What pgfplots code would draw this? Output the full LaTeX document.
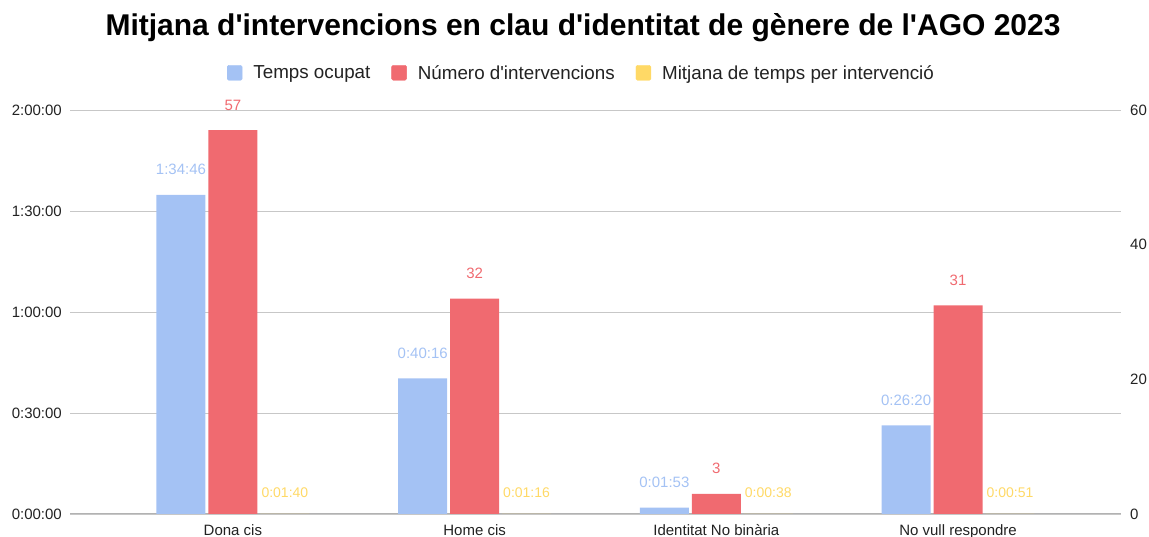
\documentclass[border=0pt]{standalone}
\usepackage{fontspec}
\setmainfont{Liberation Sans}
\usepackage{pgfplots}
\usepackage{pgfplotstable}
\pgfplotsset{compat=1.18}
\definecolor{cblue}{HTML}{A4C2F4}
\definecolor{cred}{HTML}{F06A70}
\definecolor{cyellow}{HTML}{FFD966}
\definecolor{ctext}{HTML}{222222}
\newcommand{\q}{\textquotesingle}

% Temps ocupat (seconds) with its label
\pgfplotstableread{
x t lab
0 5686 1:34:46
1 2416 0:40:16
2 113 0:01:53
3 1580 0:26:20
}\bluedata
% Numero d'intervencions
\pgfplotstableread{
x n
0 57
1 32
2 3
3 31
}\reddata
% Mitjana de temps per intervencio (bars drawn with no height in the reference)
\pgfplotstableread{
x secs t lab
0 100 0 0:01:40
1 76 0 0:01:16
2 38 0 0:00:38
3 51 0 0:00:51
}\yellowdata

\begin{document}
\begin{tikzpicture}
\useasboundingbox (0pt,0pt) rectangle (1149pt,537pt);
\node[anchor=base, font=\fontsize{30}{36}\selectfont\bfseries, text=black] at (583pt,501pt)
  {Mitjana d\q intervencions en clau d\q identitat de gènere de l\q AGO 2023};

\begin{axis}[
  at={(70pt,23pt)}, anchor=south west,
  width=1051pt, height=404pt, scale only axis,
  xmin=-0.674, xmax=3.674, ymin=0, ymax=7200,
  axis x line*=bottom, axis y line*=left,
  y axis line style={draw=none},
  x axis line style={draw=black!30, line width=1pt},
  ytick={0,1800,3600,5400,7200},
  yticklabels={0:00:00,0:30:00,1:00:00,1:30:00,2:00:00},
  ymajorgrids, grid style={black!22, line width=0.9pt},
  xtick={0,1,2,3},
  xticklabels={Dona cis, Home cis, Identitat No binària, No vull respondre},
  major tick length=0pt,
  tick label style={font=\fontsize{15}{18}\selectfont, text=ctext},
  yticklabel style={inner sep=0pt, xshift=-8pt},
  xticklabel style={inner sep=0pt, yshift=-10pt},
  ybar, bar width=0.2025, bar shift=0pt,
  clip=false,
  legend style={draw=none, fill=none, inner sep=0pt, outer sep=0pt,
    at={(0.1494,1.0916)}, anchor=west, legend columns=3,
    font=\fontsize{18.8}{22}\selectfont, text=ctext,
    nodes={inner sep=0pt},
    /tikz/every odd column/.append style={column sep=11pt},
    /tikz/every even column/.append style={column sep=21pt}},
]
\addlegendimage{legend image code/.code={\fill[cblue, rounded corners=1.5pt] (0pt,-7pt) rectangle (15pt,8pt);}}
\addlegendentry{Temps ocupat}
\addlegendimage{legend image code/.code={\fill[cred, rounded corners=1.5pt] (0pt,-7pt) rectangle (15pt,8pt);}}
\addlegendentry{Número d\q intervencions}
\addlegendimage{legend image code/.code={\fill[cyellow, rounded corners=1.5pt] (0pt,-7pt) rectangle (15pt,8pt);}}
\addlegendentry{Mitjana de temps per intervenció}

\addplot[forget plot, fill=cblue, draw=none,
  nodes near coords, point meta=explicit symbolic,
  every node near coord/.append style={anchor=base, yshift=20pt, inner sep=0pt,
    font=\fontsize{15}{18}\selectfont, text=cblue}]
  table[x expr=\thisrow{x}-0.2149, y=t, meta=lab]{\bluedata};
\addplot[forget plot, fill=cyellow, draw=none,
  nodes near coords, point meta=explicit symbolic,
  every node near coord/.append style={anchor=base, yshift=16pt, inner sep=0pt,
    font=\fontsize{14}{17}\selectfont, text=cyellow}]
  table[x expr=\thisrow{x}+0.2149, y=t, meta=lab]{\yellowdata};
\end{axis}

\begin{axis}[
  at={(70pt,23pt)}, anchor=south west,
  width=1051pt, height=404pt, scale only axis,
  xmin=-0.674, xmax=3.674, ymin=0, ymax=60,
  axis x line=none, axis y line*=right,
  y axis line style={draw=none},
  ytick={0,20,40,60},
  /pgf/number format/assume math mode=true,
  major tick length=0pt,
  tick label style={font=\fontsize{15}{18}\selectfont, text=ctext},
  yticklabel style={inner sep=0pt, anchor=west, xshift=9pt},
  ybar, bar width=0.2025, bar shift=0pt,
  clip=false,
]
\addplot[fill=cred, draw=none,
  nodes near coords, point meta=explicit symbolic,
  every node near coord/.append style={anchor=base, yshift=20pt, inner sep=0pt,
    font=\fontsize{15}{18}\selectfont, text=cred}]
  table[x=x, y=n, meta=n]{\reddata};
\end{axis}
\end{tikzpicture}
\end{document}
